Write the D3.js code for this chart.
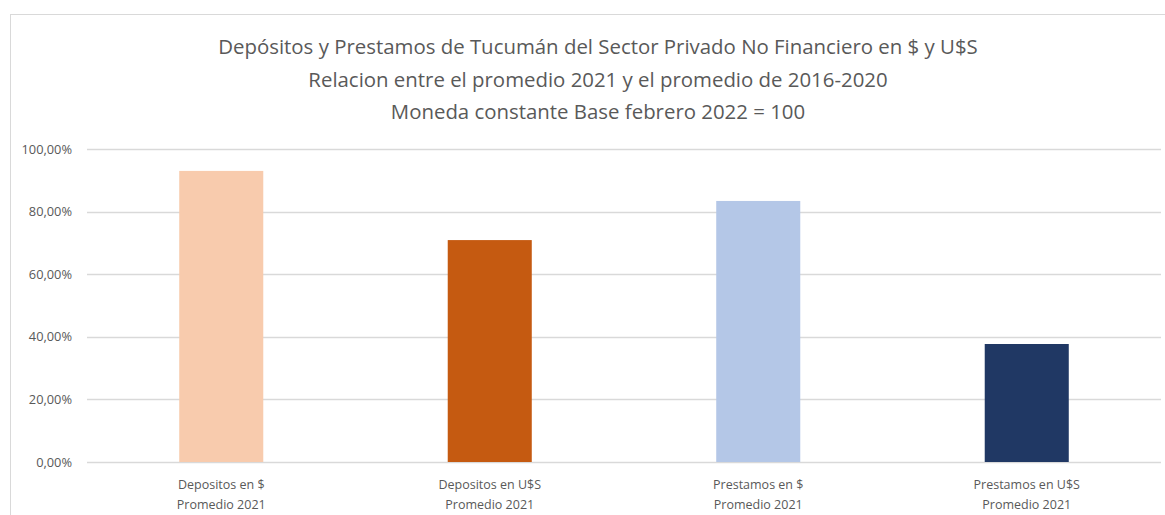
<!DOCTYPE html>
<html>
<head>
<meta charset="utf-8">
<script src="https://cdn.jsdelivr.net/npm/d3@7"></script>
<style>
  body { margin: 0; background: #fff; }
  text { font-family: "Open Sans", "Noto Sans", sans-serif; fill: #595959; }
</style>
</head>
<body>
<div id="chart"></div>
<script>
// chart data
const categories = ["Depositos en $", "Depositos en U$S", "Prestamos en $", "Prestamos en U$S"];
const subLabels = ["Promedio 2021", "Promedio 2021", "Promedio 2021", "Promedio 2021"];
const values = [0.930, 0.709, 0.834, 0.377];
const colors = ["#F8CBAD", "#C55A11", "#B4C7E7", "#203864"];
const yTicks = [0, 0.2, 0.4, 0.6, 0.8, 1.0];
const titleLines = [
  "Depósitos y Prestamos de Tucumán del Sector Privado No Financiero en $ y U$S",
  "Relacion entre el promedio 2021 y el promedio de 2016-2020",
  "Moneda constante Base febrero 2022 = 100"
];

const W = 1165, H = 515;
const margin = { top: 149, right: 4, bottom: 53, left: 87 };
const width = W - margin.left - margin.right;
const height = H - margin.top - margin.bottom;

const svg = d3.select("#chart").append("svg")
  .attr("width", W)
  .attr("height", H);

// chart area border
svg.append("rect")
  .attr("x", 10.5).attr("y", 14.5)
  .attr("width", W)
  .attr("height", H)
  .attr("fill", "none")
  .attr("stroke", "#d9d9d9");

// title
svg.append("g")
  .selectAll("text")
  .data(titleLines)
  .enter()
  .append("text")
  .attr("x", 598)
  .attr("y", (d, i) => 54 + i * 32.5)
  .attr("text-anchor", "middle")
  .style("font-size", "20.4px")
  .text((d) => d);

const g = svg.append("g")
  .attr("transform", `translate(${margin.left},${margin.top})`);

const x = d3.scaleBand()
  .domain(categories)
  .range([0, width])
  .paddingInner(0.687)
  .paddingOuter(0.3435);

const y = d3.scaleLinear()
  .domain([0, 1])
  .range([height, 0]);

const fmt = (v) => d3.format(".2f")(v * 100).replace(".", ",") + "%";

// gridlines
g.selectAll(".grid")
  .data(yTicks)
  .enter()
  .append("line")
  .attr("x1", 0)
  .attr("x2", width)
  .attr("y1", (d) => Math.round(y(d)) + 0.5)
  .attr("y2", (d) => Math.round(y(d)) + 0.5)
  .attr("stroke", "#d9d9d9")
  .attr("stroke-width", 1.3);

// y axis labels
const yAxis = g.append("g")
  .call(d3.axisLeft(y).tickValues(yTicks).tickFormat(fmt).tickSize(0).tickPadding(15));
yAxis.select(".domain").remove();
yAxis.selectAll("text")
  .style("font-size", "12.8px")
  .style("font-family", "'Open Sans', sans-serif")
  .attr("fill", "#595959");

// bars
g.selectAll(".bar")
  .data(values)
  .enter()
  .append("rect")
  .attr("class", "bar")
  .attr("x", (d, i) => x(categories[i]))
  .attr("y", (d) => y(d))
  .attr("width", x.bandwidth())
  .attr("height", (d) => height - y(d))
  .attr("fill", (d, i) => colors[i]);

// category labels (two lines)
const xl = g.append("g")
  .attr("transform", `translate(0,${height})`)
  .selectAll("text")
  .data(categories)
  .enter()
  .append("text")
  .attr("x", (d) => x(d) + x.bandwidth() / 2)
  .attr("text-anchor", "middle")
  .style("font-size", "12.5px");

xl.append("tspan")
  .attr("x", (d) => x(d) + x.bandwidth() / 2)
  .attr("y", 27)
  .text((d) => d);

xl.append("tspan")
  .attr("x", (d) => x(d) + x.bandwidth() / 2)
  .attr("y", 47)
  .text((d, i) => subLabels[i]);
</script>
</body>
</html>
